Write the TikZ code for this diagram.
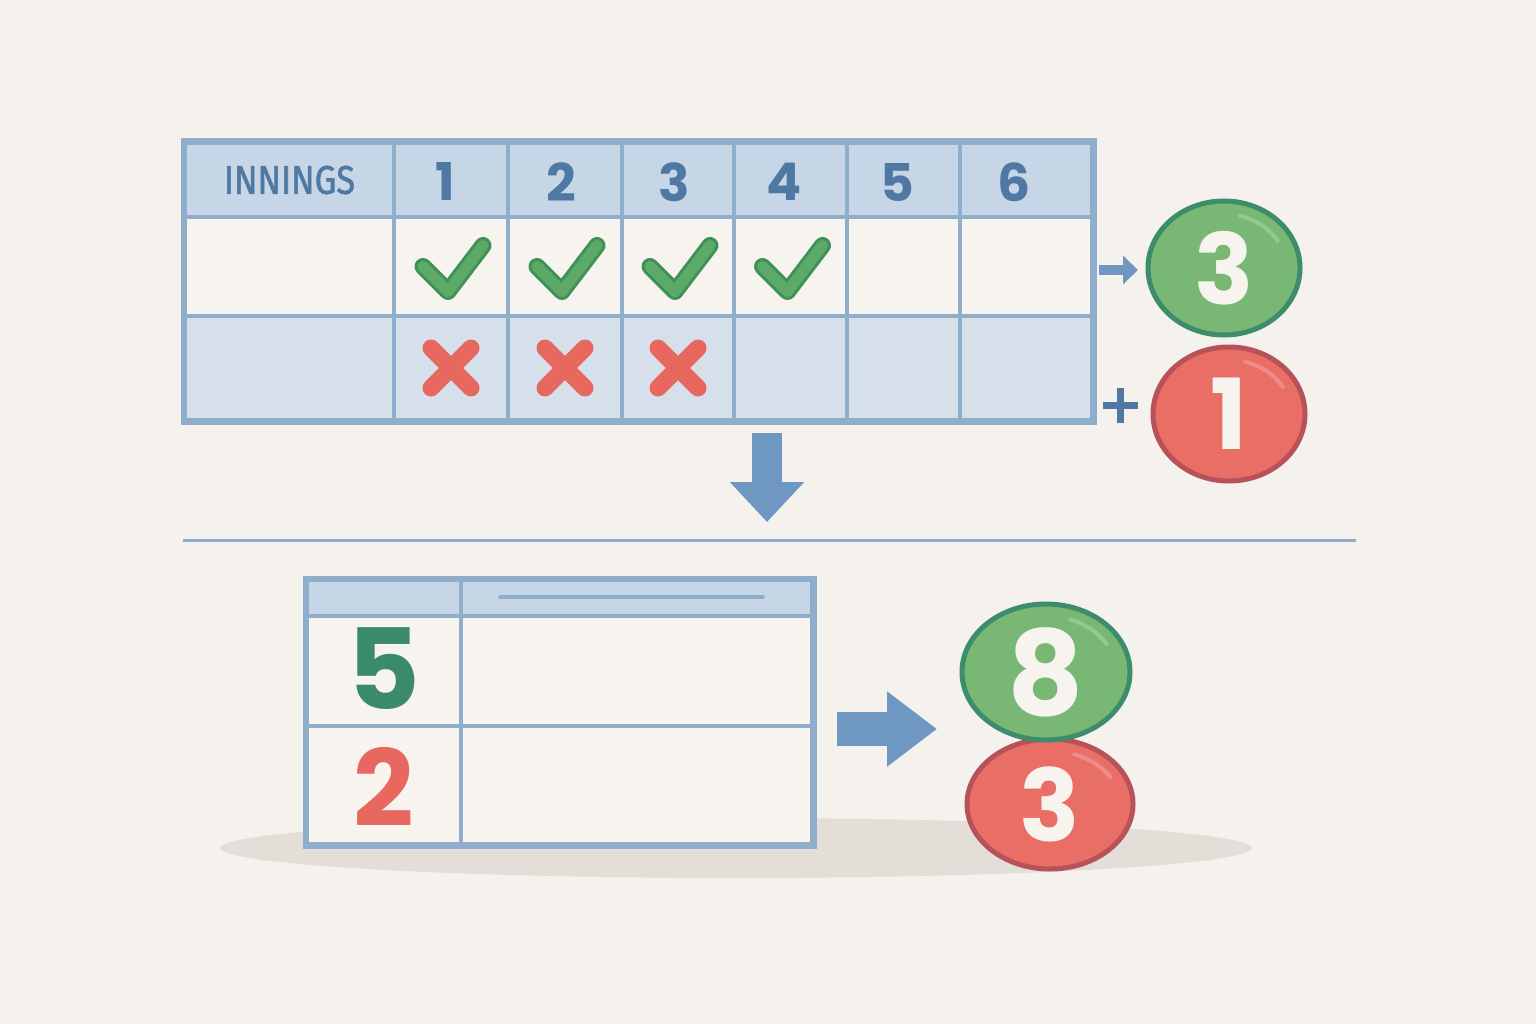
\documentclass[tikz,border=0pt]{standalone}
\usepackage{fontspec}
\setmainfont{Poppins}
\newfontfamily\labfont[FakeBold=1.6]{Fira Sans}
\usetikzlibrary{shapes.geometric,arrows.meta}
\definecolor{bg}{HTML}{F5F1EC}
\definecolor{lineblue}{HTML}{8EAECB}
\definecolor{headfill}{HTML}{C6D6E6}
\definecolor{rowfill}{HTML}{D5E0EB}
\definecolor{cream}{HTML}{F7F3EE}
\definecolor{textblue}{HTML}{4F79A3}
\definecolor{chkfill}{HTML}{5DAA68}
\definecolor{chkline}{HTML}{3E9157}
\definecolor{xred}{HTML}{E8675E}
\definecolor{gfill}{HTML}{78B874}
\definecolor{gline}{HTML}{3D8C6C}
\definecolor{rfill}{HTML}{E86E66}
\definecolor{rline}{HTML}{B8525A}
\definecolor{arrblue}{HTML}{6E98C1}
\definecolor{shadow}{HTML}{E3DED8}
\definecolor{fivegreen}{HTML}{3B8A6A}
\begin{document}
\begin{tikzpicture}[x=1pt,y=-1pt,
  cell/.style={draw=lineblue, line width=4pt, inner sep=0pt, anchor=north west},
  hdr/.style={text=textblue, font=\fontsize{52}{52}\selectfont\bfseries},
  gcirc/.style={ellipse, draw=gline, fill=gfill, line width=5pt, inner sep=0pt, text=cream},
  rcirc/.style={ellipse, draw=rline, fill=rfill, line width=5pt, inner sep=0pt, text=cream},
  gloss/.style={draw=white, opacity=0.22, line width=4pt, line cap=round},
  blockarrow/.style={draw=arrblue, line cap=butt},
]
\useasboundingbox[fill=bg] (0,0) rectangle (1536,1024);

% shadow band
\fill[shadow] (736,848) ellipse [x radius=516, y radius=30];

% ---------- top table ----------
\foreach \i/\xa/\xb in {0/183/392, 1/392/506, 2/506/620, 3/620/732, 4/732/845, 5/845/958, 6/958/1090}{
  \pgfmathsetmacro{\w}{\xb-\xa}
  \node[cell, fill=headfill, minimum width=\w pt, minimum height=74pt] (h\i) at (\xa,141) {};
  \node[cell, fill=cream, minimum width=\w pt, minimum height=99pt] (a\i) at (\xa,215) {};
  \node[cell, fill=rowfill, minimum width=\w pt, minimum height=104pt] (b\i) at (\xa,314) {};
}
\draw[draw=lineblue, line width=5pt] (h0.north west) rectangle (b6.south east);
\node[text=textblue, font=\labfont\fontsize{40}{40}\selectfont, xscale=0.86] at (h0.center) {INNINGS};
\foreach \i/\dx in {1/-6,2/-4,3/-4,4/-6,5/-6,6/-12}{
  \node[hdr] at ([xshift=\dx pt, yshift=-2pt]h\i.center) {\i};
}
% checks
\foreach \i in {1,...,4}{
  \begin{scope}[shift={(a\i.center)}]
    \draw[chkline, line width=17pt, line cap=round, line join=round] (-28,0) -- (-3,25) -- (32,-21);
    \draw[chkfill, line width=11pt, line cap=round, line join=round] (-28,0) -- (-3,25) -- (32,-21);
  \end{scope}
}
% crosses
\foreach \i in {1,...,3}{
  \begin{scope}[shift={(b\i.center)}]
    \draw[xred, line width=17pt, line cap=round] (-20,-20) -- (20,20);
    \draw[xred, line width=17pt, line cap=round] (-20,20) -- (20,-20);
  \end{scope}
}

% circles top right
\node[gcirc, minimum width=152pt, minimum height=134pt, font=\fontsize{98}{98}\selectfont\bfseries] (c3) at (1224,268) {3};
\node[rcirc, minimum width=152pt, minimum height=134pt, font=\fontsize{98}{98}\selectfont\bfseries] (c1) at (1229,414) {1};
\draw[gloss] (c3.center) ++(-30:62 and 54) arc [start angle=-30, end angle=-75, x radius=62, y radius=54];
\draw[gloss] (c1.center) ++(-30:62 and 54) arc [start angle=-30, end angle=-75, x radius=62, y radius=54];

% small arrow and plus
\coordinate (sa1) at (1099,270);
\coordinate (sa2) at (1138,270);
\draw[blockarrow, line width=10pt, -{Triangle[length=15pt,width=28pt]}] (sa1) -- (sa2);
\draw[textblue, line width=7pt] (1103,405) -- (1138,405) (1120.5,388) -- (1120.5,423);

% down arrow
\coordinate (da1) at (767,433);
\coordinate (da2) at (767,522);
\draw[blockarrow, line width=30pt, -{Triangle[length=40pt,width=72pt]}] (da1) -- (da2);

% divider
\draw[lineblue, line width=3pt] (183,540) -- (1356,540);

% ---------- bottom table ----------
\node[cell, fill=headfill, minimum width=154pt, minimum height=36pt] (p0) at (305,578) {};
\node[cell, fill=headfill, minimum width=351pt, minimum height=36pt] (p1) at (459,578) {};
\node[cell, fill=cream, minimum width=154pt, minimum height=110pt] (r0) at (305,614) {};
\node[cell, fill=cream, minimum width=351pt, minimum height=110pt] (r1) at (459,614) {};
\node[cell, fill=cream, minimum width=154pt, minimum height=118pt] (s0) at (305,724) {};
\node[cell, fill=cream, minimum width=351pt, minimum height=118pt] (s1) at (459,724) {};
\draw[lineblue, line width=5pt] (p0.north west) rectangle (s1.south east);
\draw[lineblue, line width=3.5pt, line cap=round] (500,597) -- (763,597);
\node[text=fivegreen, font=\fontsize{112}{112}\selectfont\bfseries] at ([yshift=2pt]r0.center) {5};
\node[text=xred, font=\fontsize{106}{106}\selectfont\bfseries] at ([yshift=-2pt]s0.center) {2};

% right arrow
\coordinate (ra1) at (837,729);
\coordinate (ra2) at (937,729);
\draw[blockarrow, line width=34pt, -{Triangle[length=50pt,width=72pt]}] (ra1) -- (ra2);

% result circles
\node[rcirc, minimum width=166pt, minimum height=130pt, font=\fontsize{100}{100}\selectfont\bfseries] (r3) at (1050,804) {3};
\node[gcirc, minimum width=168pt, minimum height=136pt, font=\fontsize{118}{118}\selectfont\bfseries] (g8) at (1046,672) {8};
\draw[gloss] (g8.center) ++(-30:70 and 56) arc [start angle=-30, end angle=-70, x radius=70, y radius=56];
\draw[gloss] (r3.center) ++(-30:70 and 53) arc [start angle=-30, end angle=-70, x radius=70, y radius=53];
\end{tikzpicture}
\end{document}
